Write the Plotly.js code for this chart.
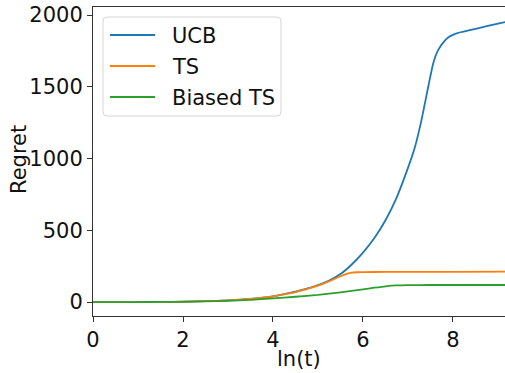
<!DOCTYPE html>
<html>
<head>
<meta charset="utf-8">
<script src="https://cdn.plot.ly/plotly-3.0.1.min.js"></script>
<style>html,body{margin:0;padding:0;background:#fff}#chart{width:505px;height:373px}</style>
</head>
<body>
<div id="chart"></div>
<script>
var ucbX = [0, 0.5, 1, 1.5, 2, 2.5, 3, 3.5, 4, 4.25, 4.5, 4.75, 5, 5.25, 5.5, 5.75, 6, 6.25, 6.5, 6.75, 7.0, 7.15, 7.3, 7.45, 7.56, 7.67, 7.8, 7.9, 8.0, 8.1, 8.4, 8.75, 9.0, 9.21];
var ucbY = [0, 0, 0, 1, 3, 6, 12, 22, 40, 55, 72, 93, 118, 150, 195, 262, 345, 445, 570, 730, 935, 1075, 1268, 1500, 1663, 1756, 1815, 1845, 1862, 1874, 1896, 1922, 1940, 1955];
var tsX = [0, 0.5, 1, 1.5, 2, 2.5, 3, 3.5, 4, 4.25, 4.5, 4.75, 5, 5.25, 5.5, 5.65, 5.75, 5.85, 6, 6.5, 7, 8, 9.21];
var tsY = [0, 0, 0, 1, 3, 6, 12, 22, 40, 54, 70, 90, 114, 145, 180, 198, 205, 208, 209, 210, 210, 211, 212];
var btsX = [0, 0.5, 1, 1.5, 2, 2.5, 3, 3.5, 4, 4.5, 5, 5.5, 6, 6.25, 6.5, 6.75, 7, 7.5, 8, 9.21];
var btsY = [0, 0, 0, 1, 2, 5, 9, 15, 26, 37, 50, 68, 89, 100, 110, 116, 118, 119, 119, 119];
var names = ["UCB", "TS", "Biased TS"];
var colors = ["#1f77b4", "#ff7f0e", "#2ca02c"];
var xTicks = [0, 2, 4, 6, 8];
var yTicks = [0, 500, 1000, 1500, 2000];
var xTitle = "ln(t)", yTitle = "Regret";

var xs = [ucbX, tsX, btsX], ys = [ucbY, tsY, btsY];
var traces = names.map(function(n, i){
  return {x: xs[i], y: ys[i], name: n, type: "scatter", mode: "lines",
    line: {color: colors[i], width: 1.8, shape: "spline", smoothing: 0.5}};
});
var F = {family: "DejaVu Sans", size: 21, color: "#111"};

// plot area in pixels (for legend / title placement)
var M = {l: 93, r: 0, t: 7, b: 57}, W = 505, H = 373;
var pw = W - M.l - M.r, ph = H - M.t - M.b;
function px(x){ return (x - M.l) / pw; }
function py(y){ return (H - M.b - y) / ph; }

// manual legend (matplotlib-like)
var bx0 = 103, bx1 = 281, by0 = 17, by1 = 116, r = 4;
var rx = r / pw, ry = r / ph;
var X0 = px(bx0), X1 = px(bx1), Y0 = py(by0), Y1 = py(by1);
var boxPath = "M" + (X0 + rx) + "," + Y0 + " L" + (X1 - rx) + "," + Y0 +
  " Q" + X1 + "," + Y0 + " " + X1 + "," + (Y0 - ry) +
  " L" + X1 + "," + (Y1 + ry) + " Q" + X1 + "," + Y1 + " " + (X1 - rx) + "," + Y1 +
  " L" + (X0 + rx) + "," + Y1 + " Q" + X0 + "," + Y1 + " " + X0 + "," + (Y1 + ry) +
  " L" + X0 + "," + (Y0 - ry) + " Q" + X0 + "," + Y0 + " " + (X0 + rx) + "," + Y0 + " Z";
var shapes = [{type: "path", xref: "paper", yref: "paper", path: boxPath,
  fillcolor: "rgba(255,255,255,0.8)", line: {color: "#d6d6d6", width: 1}}];
var annotations = [];
var rowY = [35, 66, 97];
names.forEach(function(n, i){
  shapes.push({type: "line", xref: "paper", yref: "paper", x0: px(110), x1: px(155), y0: py(rowY[i]), y1: py(rowY[i]),
    line: {color: colors[i], width: 1.8}});
  annotations.push({xref: "paper", yref: "paper", x: px(170), y: py(rowY[i] + 1), xanchor: "left", yanchor: "middle",
    text: n, showarrow: false, font: F});
});
// axis titles
annotations.push({xref: "paper", yref: "paper", x: px(299), y: py(359), xanchor: "center", yanchor: "middle",
  text: xTitle, showarrow: false, font: F});
annotations.push({xref: "paper", yref: "paper", x: px(19), y: py(160), xanchor: "center", yanchor: "middle",
  text: yTitle, textangle: -90, showarrow: false, font: F});

var axisCommon = {showline: true, linecolor: "#333", linewidth: 1, ticks: "outside", ticklen: 5,
  tickcolor: "#333", tickwidth: 1, showgrid: false, zeroline: false, tickfont: F};
var layout = {
  width: W, height: H,
  margin: M,
  paper_bgcolor: "#fff", plot_bgcolor: "#fff",
  font: F,
  xaxis: Object.assign({}, axisCommon, {range: [0, 9.156], tickvals: xTicks, ticktext: xTicks.map(String), mirror: true}),
  yaxis: Object.assign({}, axisCommon, {range: [-97, 2056], tickvals: yTicks, ticktext: yTicks.map(String)}),
  showlegend: false,
  shapes: shapes,
  annotations: annotations
};
Plotly.newPlot("chart", traces, layout, {displayModeBar: false, staticPlot: true});
</script>
</body>
</html>
